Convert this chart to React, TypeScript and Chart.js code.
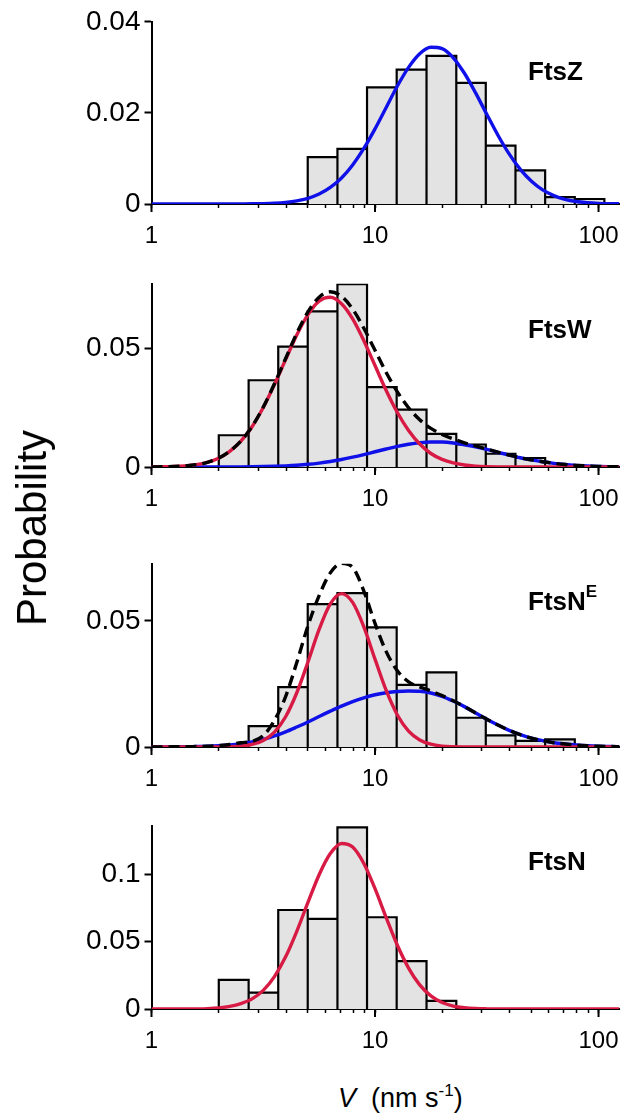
import React, { useEffect, useRef } from 'react';
import { Chart, registerables } from 'chart.js';

Chart.register(...registerables);

// x positions (nm/s) of the sampled fit curves
const X_GRID = [1, 1.122, 1.259, 1.413, 1.585, 1.778, 1.995, 2.239, 2.512, 2.818, 3.162, 3.548, 3.981, 4.467, 5.012, 5.623, 6.31, 7.079, 7.943, 8.913, 10, 11.22, 12.59, 14.13, 15.85, 17.78, 19.95, 22.39, 25.12, 28.18, 31.62, 35.48, 39.81, 44.67, 50.12, 56.23, 63.1, 70.79, 79.43, 89.13, 100, 112.2, 124];

// histogram bin edges (log-spaced)
const BIN_EDGES = [2, 2.72, 3.69, 5, 6.79, 9.21, 12.5, 17, 23.1, 31.3, 42.5, 57.7, 78.3, 106.2];

const FTSZ_BARS = [0, 0, 0, 0.0103, 0.0121, 0.0256, 0.0295, 0.0325, 0.0266, 0.0128, 0.0074, 0.0015, 0.0011];
const FTSW_BARS = [0.0134, 0.0366, 0.0508, 0.0657, 0.0772, 0.0337, 0.0242, 0.014, 0.0095, 0.0056, 0.0038, 0, 0];
const FTSNE_BARS = [0, 0.0083, 0.0237, 0.0566, 0.061, 0.0474, 0.0246, 0.0296, 0.0116, 0.0046, 0.0024, 0.003, 0];
const FTSN_BARS = [0.0216, 0.0122, 0.0735, 0.0669, 0.1348, 0.0681, 0.0355, 0.0061, 0, 0, 0, 0, 0];

const FTSZ_FIT = [0, 0, 0, 0, 0, 0, 0, 0, 0.00002, 0.00004,
  0.00008, 0.00017, 0.00035, 0.00068, 0.00125, 0.00218, 0.00363, 0.00571, 0.00857, 0.0122,
  0.0165, 0.0212, 0.0259, 0.03, 0.033, 0.0344, 0.0341, 0.0321, 0.0287, 0.0244,
  0.0197, 0.0151, 0.011, 0.0076, 0.005, 0.0031, 0.00184, 0.00103, 0.00055, 0.00028,
  0.00013, 0.00006, 0.00004];

const FTSW_SLOW = [0.00003, 0.00009, 0.00021, 0.00047, 0.00099, 0.00198, 0.0037, 0.0066, 0.0109, 0.017,
  0.0251, 0.0348, 0.0453, 0.0557, 0.0643, 0.07, 0.0716, 0.0689, 0.0625, 0.0533,
  0.0428, 0.0323, 0.023, 0.0154, 0.0097, 0.0057, 0.0032, 0.0017, 0.00083, 0.00039,
  0.00017, 0.00007, 0.00003, 0, 0, 0, 0, 0, 0, 0,
  0, 0, 0];
const FTSW_FAST = [0, 0, 0, 0, 0, 0.00001, 0.00002, 0.00004, 0.00006, 0.0001,
  0.00018, 0.0003, 0.00049, 0.00076, 0.00114, 0.00166, 0.00233, 0.00316, 0.00415, 0.00525,
  0.00643, 0.0076, 0.0087, 0.0096, 0.01025, 0.01057, 0.01054, 0.01015, 0.0094, 0.0085,
  0.0074, 0.0062, 0.005, 0.0039, 0.003, 0.0022, 0.00154, 0.00105, 0.0007, 0.00044,
  0.00027, 0.00016, 0.00011];
const FTSW_SUM = [0.00003, 0.00009, 0.00021, 0.00047, 0.00099, 0.00199, 0.00372, 0.00664, 0.01096, 0.0171,
  0.02528, 0.0351, 0.04579, 0.05646, 0.06544, 0.07166, 0.07393, 0.07206, 0.06665, 0.05855,
  0.04923, 0.0399, 0.0317, 0.025, 0.01995, 0.01627, 0.01374, 0.01185, 0.01023, 0.00889,
  0.00757, 0.00627, 0.00503, 0.0039, 0.003, 0.0022, 0.00154, 0.00105, 0.0007, 0.00044,
  0.00027, 0.00016, 0.00011];

const FTSNE_SLOW = [0, 0, 0, 0, 0, 0, 0.00003, 0.0001, 0.00033, 0.001,
  0.0026, 0.0059, 0.012, 0.0215, 0.0337, 0.0466, 0.0567, 0.0608, 0.0573, 0.0476,
  0.0348, 0.0224, 0.0127, 0.0063, 0.0028, 0.0011, 0.00036, 0.00011, 0.00003, 0,
  0, 0, 0, 0, 0, 0, 0, 0, 0, 0,
  0, 0, 0];
const FTSNE_FAST = [0, 0, 0.0001, 0.0001, 0.0002, 0.0003, 0.0005, 0.0008, 0.0013, 0.002,
  0.003, 0.0044, 0.006, 0.0079, 0.0099, 0.0121, 0.0142, 0.0162, 0.018, 0.0195,
  0.0207, 0.0215, 0.022, 0.0222, 0.0221, 0.0214, 0.0201, 0.0182, 0.016, 0.0135,
  0.011, 0.0087, 0.0066, 0.0049, 0.0035, 0.0025, 0.0017, 0.0012, 0.0008, 0.0005,
  0.0003, 0.0002, 0.0001];
const FTSNE_SUM = [0, 0, 0.0001, 0.0001, 0.0002, 0.0003, 0.0006, 0.001, 0.0017, 0.0022,
  0.0045, 0.0105, 0.02, 0.0335, 0.048, 0.06, 0.069, 0.0728, 0.0712, 0.0618,
  0.049, 0.0378, 0.0302, 0.0258, 0.0238, 0.0222, 0.0204, 0.0183, 0.016, 0.0135,
  0.011, 0.0087, 0.0066, 0.0049, 0.0035, 0.0025, 0.0017, 0.0012, 0.0008, 0.0005,
  0.0003, 0.0002, 0.0001];

const FTSN_FIT = [0, 0, 0, 0.00002, 0.0001, 0.0003, 0.0008, 0.0019, 0.004, 0.0075,
  0.0138, 0.024, 0.0387, 0.0577, 0.0791, 0.0997, 0.1154, 0.1229, 0.1202, 0.108,
  0.0893, 0.0678, 0.0473, 0.0304, 0.0179, 0.0097, 0.0048, 0.0022, 0.00093, 0.00036,
  0.00013, 0.00004, 0, 0, 0, 0, 0, 0, 0, 0,
  0, 0, 0];

const X_TICKS = [1, 2, 3, 4, 5, 6, 7, 8, 9, 10, 20, 30, 40, 50, 60, 70, 80, 90, 100];
const X_LABELED = [1, 10, 100];
const Y_TICKS_FTSZ = [0, 0.02, 0.04];
const Y_TICKS_FTSW = [0, 0.05];
const Y_TICKS_FTSNE = [0, 0.05];
const Y_TICKS_FTSN = [0, 0.05, 0.1];

const BLUE = '#1010e8';
const RED = '#d81b45';
const BAR_FILL = '#e3e3e3';
const FONT = "'Liberation Sans', Arial, sans-serif";

const PANELS = [
  { key: 'z', bars: FTSZ_BARS, yMax: 0.04, yTicks: Y_TICKS_FTSZ, top: 21, bottom: 204,
    curves: [{ values: FTSZ_FIT, color: BLUE, order: 2 }] },
  { key: 'w', bars: FTSW_BARS, yMax: 0.0773, yTicks: Y_TICKS_FTSW, top: 283, bottom: 467,
    curves: [
      { values: FTSW_FAST, color: BLUE, order: 3 },
      { values: FTSW_SLOW, color: RED, order: 2 },
      { values: FTSW_SUM, color: '#000', dash: [11, 6], order: 1 },
    ] },
  { key: 'ne', bars: FTSNE_BARS, yMax: 0.0726, yTicks: Y_TICKS_FTSNE, top: 563, bottom: 747,
    curves: [
      { values: FTSNE_FAST, color: BLUE, order: 3 },
      { values: FTSNE_SLOW, color: RED, order: 2 },
      { values: FTSNE_SUM, color: '#000', dash: [11, 6], order: 1 },
    ] },
  { key: 'n', bars: FTSN_BARS, yMax: 0.136, yTicks: Y_TICKS_FTSN, top: 825, bottom: 1009,
    curves: [{ values: FTSN_FIT, color: RED, order: 2 }] },
];

const PAD_TOP = 20;
const X_AXIS_H = 50;

function histPoints(values: number[]) {
  const pts: { x: number; y: number }[] = [];
  values.forEach((v, i) => {
    if (v <= 0) return;
    pts.push({ x: BIN_EDGES[i], y: 0 }, { x: BIN_EDGES[i], y: v }, { x: BIN_EDGES[i + 1], y: v }, { x: BIN_EDGES[i + 1], y: 0 });
  });
  return pts;
}

const majorTickPlugin = {
  id: 'majorTicks',
  afterDraw(chart: any) {
    const s = chart.scales.x;
    const ctx = chart.ctx;
    ctx.save();
    ctx.strokeStyle = '#000';
    ctx.lineWidth = 2;
    for (const v of X_LABELED) {
      const px = s.getPixelForValue(v);
      ctx.beginPath();
      ctx.moveTo(px, s.top);
      ctx.lineTo(px, s.top + 8);
      ctx.stroke();
    }
    ctx.restore();
  },
};

function Panel({ spec }: { spec: any }) {
  const ref = useRef<HTMLCanvasElement>(null);
  const h = spec.bottom - spec.top + PAD_TOP + X_AXIS_H;
  useEffect(() => {
    const datasets: any[] = [
      {
        data: histPoints(spec.bars),
        borderColor: '#000',
        borderWidth: 2.2,
        backgroundColor: BAR_FILL,
        fill: 'origin',
        pointRadius: 0,
        tension: 0,
        order: 10,
      },
    ];
    spec.curves.forEach((c: any) => {
      datasets.push({
        data: X_GRID.map((x, i) => ({ x, y: c.values[i] })),
        borderColor: c.color,
        borderWidth: 3.4,
        borderDash: c.dash || [],
        fill: false,
        pointRadius: 0,
        tension: 0.4,
        cubicInterpolationMode: 'monotone',
        order: c.order,
      });
    });
    const chart = new Chart(ref.current as HTMLCanvasElement, {
      type: 'line',
      data: { datasets },
      options: {
        responsive: false,
        animation: false,
        events: [],
        layout: { padding: { top: PAD_TOP, right: 10, bottom: 0, left: 0 } },
        plugins: { legend: { display: false }, tooltip: { enabled: false } },
        scales: {
          x: {
            type: 'logarithmic',
            min: 1,
            max: 124,
            afterBuildTicks: (scale: any) => {
              scale.ticks = X_TICKS.map((v) => ({ value: v }));
            },
            afterFit: (scale: any) => {
              scale.height = X_AXIS_H;
            },
            border: { display: true, color: '#000', width: 2 },
            grid: { drawOnChartArea: false, drawTicks: true, tickLength: 4, tickWidth: 1.5, tickColor: '#000' },
            ticks: {
              autoSkip: false,
              maxRotation: 0,
              minRotation: 0,
              padding: 14,
              color: '#000',
              font: { family: FONT, size: 24 },
              callback: (v: any) => (X_LABELED.includes(Number(v)) ? String(v) : ''),
            },
          },
          y: {
            type: 'linear',
            min: 0,
            max: spec.yMax,
            afterBuildTicks: (scale: any) => {
              scale.ticks = spec.yTicks.map((v: number) => ({ value: v }));
            },
            afterFit: (scale: any) => {
              scale.width = 151.5;
            },
            border: { display: true, color: '#000', width: 2 },
            grid: { drawOnChartArea: false, drawTicks: true, tickLength: 7, tickWidth: 2, tickColor: '#000' },
            ticks: {
              padding: 4,
              color: '#000',
              font: { family: FONT, size: 28 },
              callback: (v: any) => String(v),
            },
          },
        },
      } as any,
      plugins: [majorTickPlugin],
    });
    return () => chart.destroy();
  }, []);
  return (
    <canvas
      ref={ref}
      width={633}
      height={h}
      style={{ position: 'absolute', left: 0, top: spec.top - PAD_TOP, width: 633, height: h }}
    />
  );
}

const labelStyle: React.CSSProperties = {
  position: 'absolute',
  left: 528,
  fontFamily: FONT,
  fontWeight: 'bold',
  fontSize: 26,
  lineHeight: '26px',
  whiteSpace: 'nowrap',
  color: '#000',
};

export default function App() {
  return (
    <div style={{ position: 'absolute', left: 0, top: 0, width: 633, height: 1114, background: '#fff', overflow: 'hidden' }}>
      {PANELS.map((p) => (
        <Panel key={p.key} spec={p} />
      ))}
      <div style={{ ...labelStyle, top: 58 }}>FtsZ</div>
      <div style={{ ...labelStyle, top: 316 }}>FtsW</div>
      <div style={{ ...labelStyle, top: 588 }}>
        FtsN<span style={{ fontSize: 17, position: 'relative', top: -13 }}>E</span>
      </div>
      <div style={{ ...labelStyle, top: 848 }}>FtsN</div>
      <div
        style={{
          position: 'absolute',
          left: 32,
          top: 528,
          transform: 'translate(-50%, -50%) rotate(-90deg)',
          fontFamily: FONT,
          fontSize: 42,
          lineHeight: 1,
          whiteSpace: 'nowrap',
          color: '#000',
        }}
      >
        Probability
      </div>
      <div
        style={{
          position: 'absolute',
          left: 338,
          top: 1085,
          fontFamily: FONT,
          fontSize: 27,
          lineHeight: '27px',
          whiteSpace: 'pre',
          color: '#000',
        }}
      >
        <i>V</i>{'  (nm s'}
        <span style={{ fontSize: 17, position: 'relative', top: -11 }}>-1</span>
        {')'}
      </div>
    </div>
  );
}
